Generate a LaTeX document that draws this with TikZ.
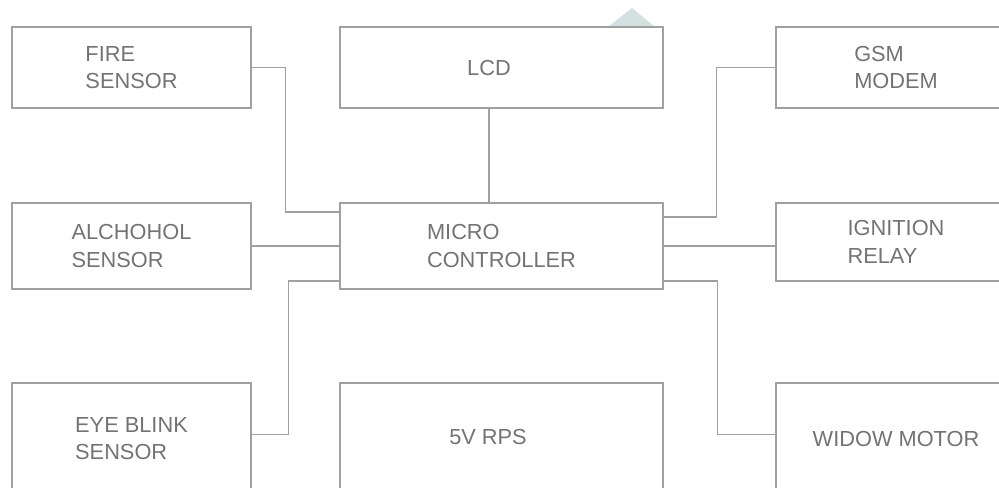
\documentclass[tikz,border=0pt]{standalone}
\usepackage{fontspec}
\setmainfont{Liberation Sans}
\usetikzlibrary{calc}
\definecolor{linegray}{RGB}{160,160,160}
\definecolor{labelgray}{RGB}{115,115,115}
\definecolor{markteal}{RGB}{210,224,224}

\begin{document}
\begin{tikzpicture}[x=0.02cm, y=-0.02cm,
    block/.style={draw=linegray, line width=0.75pt, text=labelgray, align=left,
      font=\fontsize{12.4}{15.7}\selectfont, inner sep=0pt},
    blocktext/.style={text=labelgray, font=\fontsize{12.4}{15.7}\selectfont},
    wire/.style={draw=linegray, line width=0.75pt}]
  \def\px{0.02cm}
  \clip (0,0) rectangle (999,487);
  \fill[markteal] (608,27) -- (632,8) -- (655,27) -- cycle;
  % left column
  \node[block, minimum width=239*\px, minimum height=81*\px] (fire) at (131.5,67.5) {FIRE\\SENSOR};
  \node[block, minimum width=239*\px, minimum height=86*\px] (alco) at (131.5,246) {ALCHOHOL\\SENSOR};
  \node[block, minimum width=239*\px, minimum height=111*\px] (eye) at (131.5,438.5) {EYE BLINK\\SENSOR};
  % middle column
  \node[block, minimum width=323*\px, minimum height=81*\px] (lcd) at (501.5,67.5) {};
  \node[blocktext] (lcdt) at (489,67.5) {LCD};
  \node[block, minimum width=323*\px, minimum height=86*\px] (micro) at (501.5,246) {MICRO\\CONTROLLER};
  \node[block, minimum width=323*\px, minimum height=111*\px] (rps) at (501.5,438.5) {};
  \node[blocktext] (rpst) at (488,437) {5V RPS};
  % right column
  \node[block, minimum width=240*\px, minimum height=81*\px] (gsm) at (896,67.5) {GSM\\MODEM};
  \node[block, minimum width=240*\px, minimum height=78*\px] (ign) at (896,242) {IGNITION\\RELAY};
  \node[block, minimum width=240*\px, minimum height=111*\px] (widow) at (896,438.5) {WIDOW MOTOR};
  % wires
  \draw[wire] (fire.east) -- ++(34,0) |- ($(micro.west)+(0,-34)$);
  \draw[wire] (alco.east) -- (micro.west);
  \draw[wire] ($(eye.east)+(0,-4)$) -- ++(37,0) |- ($(micro.west)+(0,35)$);
  \draw[wire] (lcd.south -| lcdt) -- (micro.north -| lcdt);
  \draw[wire] (gsm.west) -- ++(-59,0) |- ($(micro.east)+(0,-29)$);
  \draw[wire] (micro.east) -- (micro.east -| ign.west);
  \draw[wire] ($(micro.east)+(0,35)$) -- ++(54,0) |- ($(widow.west)+(0,-4)$);
\end{tikzpicture}
\end{document}
